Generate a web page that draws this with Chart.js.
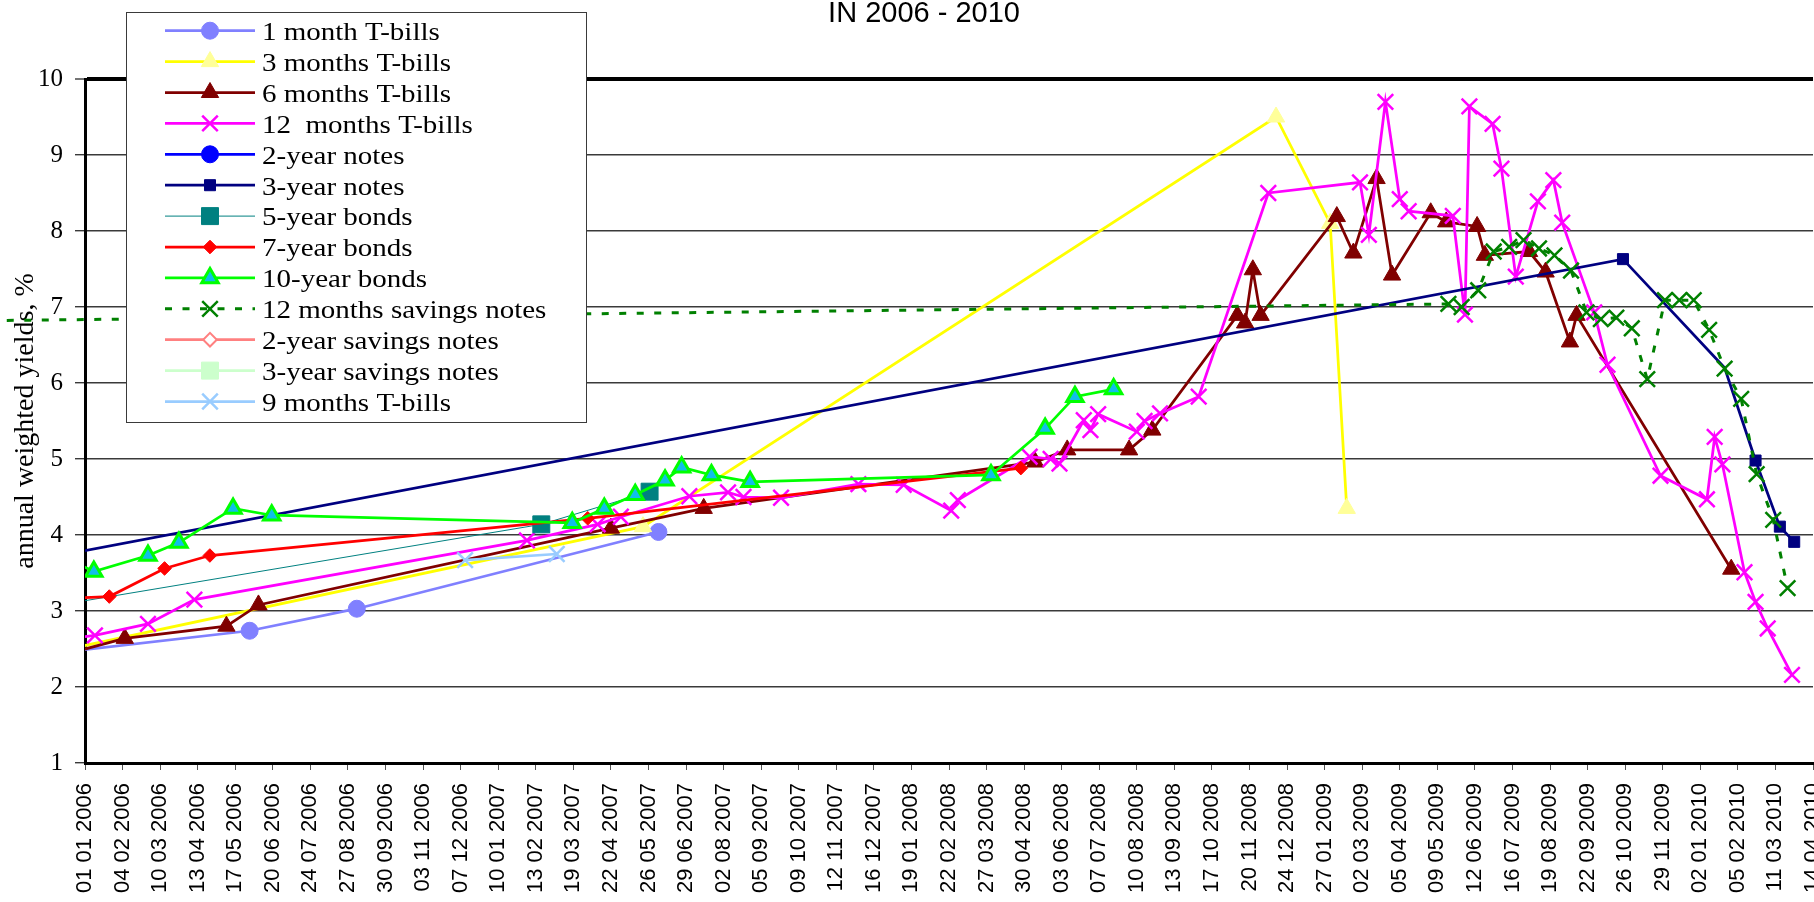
<!DOCTYPE html>
<html>
<head>
<meta charset="utf-8">
<script src="https://cdn.jsdelivr.net/npm/chart.js@4.4.1/dist/chart.umd.min.js"></script>
<style>
html,body{margin:0;padding:0;background:#fff;overflow:hidden;}
#wrap{position:relative;width:1814px;height:902px;}
canvas{display:block;}
</style>
</head>
<body>
<div id="wrap"><canvas id="c" width="1814" height="902"></canvas></div>
<script>
// ---------- text ----------
const TITLE = 'IN 2006 - 2010';
const Y_TITLE = 'annual weighted yields, %';
const SERIES_NAMES = [
  '1 month T-bills', '3 months T-bills', '6 months T-bills', '12  months T-bills',
  '2-year notes', '3-year notes', '5-year bonds', '7-year bonds', '10-year bonds',
  '12 months savings notes', '2-year savings notes', '3-year savings notes', '9 months T-bills'
];

// ---------- axes ----------
const X_START = '2006-01-01';
const X_END = '2010-04-14';
const X_TICK_STEP_DAYS = 34;
const Y_MIN = 1, Y_MAX = 10, Y_STEP = 1;

// ---------- data (auction dates, yields %) ----------
const T1M_DATES = ['2005-12-01','2006-05-30','2006-09-04','2007-06-04'];
const T1M = [2.44, 2.74, 3.03, 4.04];

const T3M_DATES = ['2005-12-01','2007-05-21','2008-12-14','2009-02-01','2009-02-16'];
const T3M = [2.45, 4.11, 9.50, 8.10, 4.35];

const T6M_DATES = ['2005-12-01','2006-02-06','2006-05-09','2006-06-07','2007-04-22','2007-07-15',
  '2008-05-10','2008-06-08','2008-08-03','2008-08-24','2008-11-09','2008-11-16','2008-11-23',
  '2008-11-30','2009-02-07','2009-02-22','2009-03-15','2009-03-29','2009-05-03','2009-05-17',
  '2009-06-14','2009-06-21','2009-07-31','2009-08-15','2009-09-06','2009-09-12','2010-01-30'];
const T6M = [2.38, 2.64, 2.80, 3.08, 4.09, 4.35,
  4.96, 5.12, 5.12, 5.38, 6.89, 6.79, 7.49,
  6.89, 8.19, 7.71, 8.69, 7.42, 8.24, 8.12,
  8.06, 7.68, 7.73, 7.46, 6.54, 6.89, 3.55];

const T12M_DATES = ['2005-12-01','2006-01-10','2006-02-27','2006-04-10','2007-02-05','2007-04-10',
  '2007-05-01','2007-07-02','2007-08-06','2007-08-20','2007-09-23','2007-12-02','2008-01-12',
  '2008-02-24','2008-03-01','2008-05-05','2008-05-24','2008-06-01','2008-06-23','2008-06-29',
  '2008-07-06','2008-08-10','2008-08-17','2008-08-31','2008-10-05','2008-12-07','2009-02-28',
  '2009-03-08','2009-03-23','2009-04-05','2009-04-13','2009-05-23','2009-06-03','2009-06-07',
  '2009-06-28','2009-07-06','2009-07-19','2009-08-08','2009-08-22','2009-08-30','2009-09-28',
  '2009-10-10','2009-11-27','2010-01-08','2010-01-15','2010-01-22','2010-02-11','2010-02-21',
  '2010-03-04','2010-03-26'];
const T12M = [2.61, 2.68, 2.83, 3.15, 3.93, 4.14,
  4.24, 4.51, 4.56, 4.50, 4.49, 4.67, 4.66,
  4.32, 4.46, 5.03, 5.00, 4.94, 5.51, 5.38,
  5.59, 5.36, 5.50, 5.60, 5.82, 8.50, 8.64,
  7.95, 9.70, 8.42, 8.26, 8.20, 6.90, 9.64,
  9.41, 8.82, 7.40, 8.39, 8.67, 8.11, 6.93,
  6.24, 4.78, 4.47, 5.29, 4.93, 3.51, 3.12,
  2.77, 2.16];

const N2Y_DATES = [];
const N2Y = [];

const N3Y_DATES = ['2005-12-01','2009-10-24','2010-01-24','2010-02-21','2010-03-15','2010-03-28'];
const N3Y = [3.71, 7.63, 6.20, 4.98, 4.11, 3.91];
const N3Y_NO_MARKER = ['2010-01-24'];

const B5Y_DATES = ['2005-12-01','2007-02-18','2007-05-27'];
const B5Y = [3.06, 4.14, 4.57];

const B7Y_DATES = ['2005-12-01','2006-01-23','2006-03-14','2006-04-24','2007-04-01','2008-04-27'];
const B7Y = [3.155, 3.19, 3.56, 3.73, 4.22, 4.88];

const B10Y_DATES = ['2005-12-01','2006-01-09','2006-02-27','2006-03-27','2006-05-15','2006-06-19',
  '2007-03-18','2007-04-16','2007-05-14','2007-06-10','2007-06-25','2007-07-22','2007-08-26',
  '2008-03-31','2008-05-19','2008-06-15','2008-07-20'];
const B10Y = [3.79, 3.52, 3.73, 3.90, 4.35, 4.26,
  4.16, 4.35, 4.53, 4.72, 4.89, 4.79, 4.70,
  4.79, 5.40, 5.82, 5.92];

const S12M_DATES = ['2005-08-04','2009-05-19','2009-05-31','2009-06-15','2009-06-29','2009-07-13',
  '2009-07-26','2009-08-09','2009-08-23','2009-09-07','2009-09-21','2009-10-04','2009-10-18',
  '2009-11-01','2009-11-15','2009-12-01','2009-12-14','2009-12-27','2010-01-10','2010-01-24',
  '2010-02-08','2010-02-22','2010-03-09','2010-03-22'];
const S12M = [6.81, 7.04, 7.00, 7.22, 7.73, 7.79,
  7.88, 7.77, 7.68, 7.48, 6.93, 6.84, 6.86,
  6.72, 6.05, 7.09, 7.09, 7.09, 6.70, 6.19,
  5.79, 4.80, 4.20, 3.30];

const S2Y_DATES = [];
const S2Y = [];
const S3Y_DATES = [];
const S3Y = [];

const T9M_DATES = ['2006-12-11','2007-03-04'];
const T9M = [3.67, 3.75];

const SERIES_DATES = [T1M_DATES, T3M_DATES, T6M_DATES, T12M_DATES, N2Y_DATES, N3Y_DATES,
  B5Y_DATES, B7Y_DATES, B10Y_DATES, S12M_DATES, S2Y_DATES, S3Y_DATES, T9M_DATES];
const SERIES_VALUES = [T1M, T3M, T6M, T12M, N2Y, N3Y, B5Y, B7Y, B10Y, S12M, S2Y, S3Y, T9M];
const SERIES_NO_MARKER = [[], [], [], [], [], N3Y_NO_MARKER, [], [], [], [], [], [], []];

// ---------- styles ----------
const STYLES = [
  {color:'#8080FF', width:2.75, point:'circle',   r:8.5, fill:'#8080FF', stroke:'#8080FF', pbw:1},
  {color:'#FFFF00', width:2.75, point:'triangle', r:10,  fill:'#FFFF99', stroke:'#FFFF99', pbw:1},
  {color:'#800000', width:2.75, point:'triangle', r:10,  fill:'#800000', stroke:'#800000', pbw:1},
  {color:'#FF00FF', width:2.75, point:'crossRot', r:11,  fill:'#FF00FF', stroke:'#FF00FF', pbw:2.5},
  {color:'#0000FF', width:2.75, point:'circle',   r:8.5, fill:'#0000FF', stroke:'#0000FF', pbw:1},
  {color:'#000080', width:2.75, point:'rect',     r:7.8, fill:'#000080', stroke:'#000080', pbw:1},
  {color:'#008080', width:1,    point:'rect',     r:12,  fill:'#008080', stroke:'#008080', pbw:1},
  {color:'#FF0000', width:2.75, point:'rectRot',  r:6.8, fill:'#FF0000', stroke:'#FF0000', pbw:1},
  {color:'#00FF00', width:2.75, point:'triangle', r:9.5, fill:'#10BEEA', stroke:'#00FF00', pbw:3},
  {color:'#008000', width:3, dash:[7,10.5], point:'crossRot', r:11, fill:'#008000', stroke:'#008000', pbw:2.5, noClip:true},
  {color:'#FF8080', width:2.75, point:'rectRot',  r:6.8, fill:'#FFFFFF', stroke:'#FF8080', pbw:2},
  {color:'#CCFFCC', width:2.75, point:'rect',     r:12,  fill:'#CCFFCC', stroke:'#CCFFCC', pbw:1},
  {color:'#99CCFF', width:2.75, point:'crossRot', r:11,  fill:'#99CCFF', stroke:'#99CCFF', pbw:2.5}
];

const SERIF = '"Liberation Serif", "Times New Roman", serif';
const SANS = '"Liberation Sans", Arial, sans-serif';

const LEGEND_BOX = {left:126, top:12, right:586, bottom:422};
const LEGEND_ROW = {first:30.7, step:30.9, lineX0:165, lineX1:255, markX:210, textX:262, baseline:9.3, stretch:1.16, size:25};
const TITLE_POS = {x:924, y:21.7, size:29};

// ---------- helpers ----------
const BASE = Date.UTC(2006, 0, 1);
function dayNum(s) {
  const p = s.split('-').map(Number);
  return Math.round((Date.UTC(p[0], p[1] - 1, p[2]) - BASE) / 86400000);
}
function pad2(n) { return (n < 10 ? '0' : '') + n; }
function tickLabel(v) {
  const d = new Date(BASE + Math.round(v) * 86400000);
  return pad2(d.getUTCDate()) + ' ' + pad2(d.getUTCMonth() + 1) + ' ' + d.getUTCFullYear();
}

function drawMarker(ctx, st, x, y) {
  const r = st.r;
  ctx.save();
  ctx.beginPath();
  if (st.point === 'circle') {
    ctx.arc(x, y, r, 0, Math.PI * 2);
  } else if (st.point === 'triangle') {
    ctx.moveTo(x, y - r);
    ctx.lineTo(x + 0.866 * r, y + 0.5 * r);
    ctx.lineTo(x - 0.866 * r, y + 0.5 * r);
    ctx.closePath();
  } else if (st.point === 'rect') {
    const s = r * Math.SQRT1_2;
    ctx.rect(x - s, y - s, 2 * s, 2 * s);
  } else if (st.point === 'rectRot') {
    ctx.moveTo(x - r, y); ctx.lineTo(x, y - r); ctx.lineTo(x + r, y); ctx.lineTo(x, y + r);
    ctx.closePath();
  } else if (st.point === 'crossRot') {
    const o = r * Math.SQRT1_2;
    ctx.moveTo(x - o, y - o); ctx.lineTo(x + o, y + o);
    ctx.moveTo(x + o, y - o); ctx.lineTo(x - o, y + o);
  }
  if (st.point !== 'crossRot') { ctx.fillStyle = st.fill; ctx.fill(); }
  if (st.pbw > 0) { ctx.setLineDash([]); ctx.lineWidth = st.pbw; ctx.strokeStyle = st.stroke; ctx.stroke(); }
  ctx.restore();
}

const legendPlugin = {
  id: 'boxLegend',
  afterDraw(chart) {
    const ctx = chart.ctx;
    const b = LEGEND_BOX, L = LEGEND_ROW;
    ctx.save();
    ctx.fillStyle = '#FFFFFF';
    ctx.fillRect(b.left, b.top, b.right - b.left, b.bottom - b.top);
    ctx.strokeStyle = '#3a3a3a';
    ctx.lineWidth = 1;
    ctx.strokeRect(b.left + 0.5, b.top + 0.5, b.right - b.left, b.bottom - b.top);
    chart.data.datasets.forEach((ds, i) => {
      const st = STYLES[i];
      const y = L.first + i * L.step;
      ctx.save();
      ctx.beginPath();
      ctx.strokeStyle = st.color;
      ctx.lineWidth = st.width;
      ctx.setLineDash(st.dash || []);
      ctx.moveTo(L.lineX0, y); ctx.lineTo(L.lineX1, y);
      ctx.stroke();
      ctx.restore();
      drawMarker(ctx, st, L.markX, y);
      ctx.save();
      ctx.translate(L.textX, y + L.baseline);
      ctx.scale(L.stretch, 1);
      ctx.fillStyle = '#000';
      ctx.font = L.size + 'px ' + SERIF;
      ctx.textAlign = 'left';
      ctx.textBaseline = 'alphabetic';
      ctx.fillText(ds.label, 0, 0);
      ctx.restore();
    });
    ctx.restore();
  }
};

const titlePlugin = {
  id: 'topTitle',
  afterDraw(chart) {
    const ctx = chart.ctx;
    ctx.save();
    ctx.fillStyle = '#000';
    ctx.font = TITLE_POS.size + 'px ' + SANS;
    ctx.textAlign = 'center';
    ctx.textBaseline = 'alphabetic';
    ctx.fillText(TITLE, TITLE_POS.x, TITLE_POS.y);
    ctx.restore();
  }
};

const N = SERIES_NAMES.length;
const datasets = SERIES_NAMES.map((name, i) => {
  const st = STYLES[i];
  const dates = SERIES_DATES[i];
  const noMarker = SERIES_NO_MARKER[i];
  const ds = {
    label: name,
    data: dates.map((d, k) => ({x: dayNum(d), y: SERIES_VALUES[i][k]})),
    borderColor: st.color,
    backgroundColor: st.fill,
    borderWidth: st.width,
    borderDash: st.dash || [],
    pointStyle: st.point,
    pointRadius: noMarker.length ? (c) => (noMarker.indexOf(dates[c.dataIndex]) >= 0 ? 0 : st.r) : st.r,
    pointHoverRadius: st.r,
    pointBackgroundColor: st.fill,
    pointBorderColor: st.stroke,
    pointBorderWidth: noMarker.length ? (c) => (noMarker.indexOf(dates[c.dataIndex]) >= 0 ? 0 : st.pbw) : st.pbw,
    tension: 0,
    fill: false,
    order: N - i
  };
  if (st.noClip) ds.clip = false;
  return ds;
});

new Chart(document.getElementById('c'), {
  type: 'line',
  data: { datasets },
  options: {
    responsive: false,
    animation: false,
    events: [],
    layout: { autoPadding: false, padding: { top: 79, right: 1, bottom: 0, left: 0 } },
    plugins: { legend: { display: false }, title: { display: false }, tooltip: { enabled: false } },
    scales: {
      x: {
        type: 'linear',
        min: dayNum(X_START),
        max: dayNum(X_END),
        afterFit: (s) => { s.height = 139; s.paddingLeft = 0; s.paddingRight = 0; },
        ticks: {
          stepSize: X_TICK_STEP_DAYS, autoSkip: false, maxRotation: 90, minRotation: 90,
          padding: 13, color: '#000', font: { family: SANS, size: 22 },
          callback: (v) => tickLabel(v)
        },
        grid: { drawOnChartArea: false, drawTicks: true, tickLength: 7, color: '#555', lineWidth: 1 },
        border: { display: true, color: '#000', width: 3 }
      },
      y: {
        type: 'linear',
        min: Y_MIN, max: Y_MAX,
        afterFit: (s) => { s.width = 85; s.paddingTop = 0; s.paddingBottom = 0; },
        ticks: { stepSize: Y_STEP, padding: 12, color: '#000', font: { family: SERIF, size: 25 } },
        grid: {
          color: (c) => (c.tick && c.tick.value === Y_MAX) ? '#000' : '#3a3a3a',
          lineWidth: (c) => (c.tick && c.tick.value === Y_MAX) ? 4 : 1.4,
          tickLength: 10, tickWidth: 1.4, tickColor: '#3a3a3a'
        },
        border: { display: true, color: '#000', width: 3 },
        title: { display: true, text: Y_TITLE, color: '#000', font: { family: SERIF, size: 28 }, padding: { top: 9, bottom: 0 } }
      }
    }
  },
  plugins: [legendPlugin, titlePlugin]
});
</script>
</body>
</html>
